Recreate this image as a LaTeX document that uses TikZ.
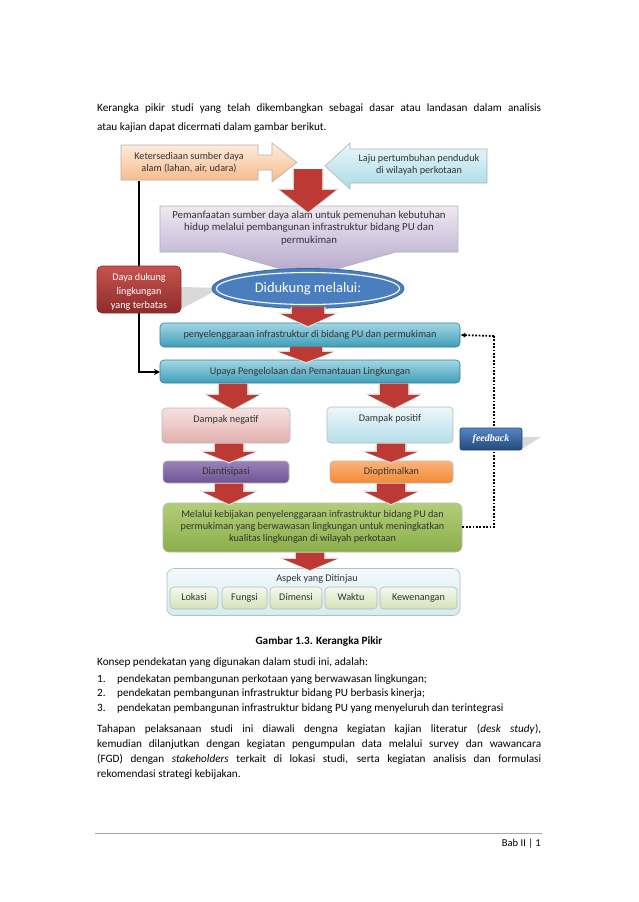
\documentclass[tikz,border=0pt]{standalone}
\usepackage{fontspec}
\setmainfont{Carlito}
\newfontfamily\serifbi{Liberation Serif}
\usetikzlibrary{calc,arrows.meta,shapes.geometric}
\definecolor{txt}{HTML}{333333}
\definecolor{orgT}{HTML}{FDEEE2}
\definecolor{orgB}{HTML}{F8B987}
\definecolor{cyaT}{HTML}{EAF6F9}
\definecolor{cyaB}{HTML}{A9DCE8}
\definecolor{purT}{HTML}{EDE9F2}
\definecolor{purB}{HTML}{B3A3CA}
\definecolor{redA}{HTML}{BC3A33}
\definecolor{redT}{HTML}{C65350}
\definecolor{redB}{HTML}{8E2B2A}
\definecolor{bluE}{HTML}{4A7EBF}
\definecolor{bluD}{HTML}{3A6598}
\definecolor{barT}{HTML}{A3D7E5}
\definecolor{barB}{HTML}{3E9DB8}
\definecolor{barD}{HTML}{2F7F97}
\definecolor{pnkT}{HTML}{F6E2E1}
\definecolor{pnkB}{HTML}{E3AFAE}
\definecolor{lcyT}{HTML}{EDF7FA}
\definecolor{lcyB}{HTML}{B5DFEA}
\definecolor{vioT}{HTML}{9A83B9}
\definecolor{vioB}{HTML}{6E5394}
\definecolor{oraT}{HTML}{FBB37B}
\definecolor{oraB}{HTML}{F28A33}
\definecolor{grnT}{HTML}{B2CD79}
\definecolor{grnB}{HTML}{8BAF4A}
\definecolor{aspT}{HTML}{F3F9FB}
\definecolor{aspB}{HTML}{D3ECF2}
\definecolor{inT}{HTML}{F4F8EE}
\definecolor{inB}{HTML}{D3E2B7}
\definecolor{fbT}{HTML}{5586C2}
\definecolor{fbB}{HTML}{23497A}
\newcommand\bodyfont{\fontsize{11.2}{14.6}\selectfont}
\newcommand\dfont{\fontsize{10.2}{12.5}\selectfont}
\newcommand\rdarrow[6]{% cx, ytop, yhead, ytip, shaft half, head half
  \fill[gray!30] (#1-#5-1.5,#2) -- (#1+#5+1.5,#2) -- (#1+#5+1.5,#3-1.5) -- (#1+#6+3,#3-1.5) -- (#1,#4+1.5) -- (#1-#6-3,#3-1.5) -- (#1-#5-1.5,#3-1.5) -- cycle;
  \fill[redA] (#1-#5,#2) -- (#1+#5,#2) -- (#1+#5,#3) -- (#1+#6,#3) -- (#1,#4) -- (#1-#6,#3) -- (#1-#5,#3) -- cycle;}
\tikzset{
  body/.style={inner sep=0pt, font=\bodyfont, text=black},
  dtxt/.style={inner sep=0pt, font=\dfont, text=txt, align=center},
  wtxt/.style={inner sep=0pt, font=\dfont, text=white, align=center},
  rbox/.style={draw=gray!55, line width=0.6pt, rounded corners=4pt, inner sep=0pt},
  inbox/.style={rbox, top color=inT, bottom color=inB, minimum height=22pt, font=\dfont, text=txt, text height=7.2pt, text depth=2.2pt},
}
\begin{document}
\begin{tikzpicture}[x=1pt,y=-1pt]
\useasboundingbox (0,0) rectangle (638,902);
\fill[white] (0,0) rectangle (638,902);

% ---- paragraph 1
\node[body, anchor=base west] (p1a) at (97,111) {\makebox[444pt][s]{Kerangka pikir studi yang telah dikembangkan sebagai dasar atau landasan dalam analisis}};
\node[body, anchor=base west] (p1b) at (97,130) {atau kajian dapat dicermati dalam gambar berikut.};

% ---- black connector (behind)
\coordinate (ks) at (139,181);
\coordinate (kc) at (139,372);

% ---- top arrows boxes
\path[draw=gray!60, line width=0.6pt, top color=orgT, bottom color=orgB]
  (121,145) -- (258,145) -- (258,155) -- (272,155) -- (272,143) -- (297,162.5) -- (272,182) -- (272,170) -- (258,170) -- (258,180) -- (121,180) -- cycle;
\node[dtxt] (ket) at (189,162.5) {Ketersediaan sumber daya\\alam (lahan, air, udara)};
\path[draw=gray!60, line width=0.6pt, top color=cyaT, bottom color=cyaB]
  (487,149) -- (350,149) -- (350,143) -- (325,166) -- (350,189) -- (350,183) -- (487,183) -- cycle;
\node[dtxt] (laj) at (419,165) {Laju pertumbuhan penduduk\\di wilayah perkotaan};

\draw[line width=1.6pt, -{Stealth[length=6pt,width=6pt]}] (ks) -- (kc) -- (160,372);

% ---- purple box with callout
\path[draw=gray!60, line width=0.6pt, top color=purT, bottom color=purB]
  (160,206) -- (458,206) -- (458,252) -- (396,252) -- (309,277) -- (222,252) -- (160,252) -- cycle;
\node[dtxt, font=\fontsize{10.8}{12.8}\selectfont] (pem) at (309,228) {Pemanfaatan sumber daya alam untuk pemenuhan kebutuhan\\hidup melalui pembangunan infrastruktur bidang PU dan\\permukiman};

% ---- red box & callout
\fill[gray!30] (181,287) -- (221,288) -- (181,309) -- cycle;
\node[rbox, draw=redB, top color=redT, bottom color=redB, rounded corners=5pt, minimum width=84pt, minimum height=47pt] (ddb) at (139,289.5) {};
\node[wtxt, font=\fontsize{10.2}{14.2}\selectfont] (dd) at (139,292) {Daya dukung\\lingkungan\\yang terbatas};

% ---- ellipse
\node[ellipse, draw=bluD, line width=0.8pt, fill=bluE, minimum width=192pt, minimum height=40pt, inner sep=0pt] (did) at (308,288.5) {};
\node[ellipse, draw=white, line width=1.1pt, minimum width=183pt, minimum height=32pt, inner sep=0pt, text=white, font=\fontsize{14.5}{16}\selectfont] (didt) at (308,288.5) {Didukung melalui:};

% ---- bars
\node[rbox, draw=barD, top color=barT, bottom color=barB, minimum width=300pt, minimum height=24pt] (pen) at (310,335) {};
\node[dtxt] (pent) at (310,335) {penyelenggaraan infrastruktur di bidang PU dan permukiman};
\node[rbox, draw=barD, top color=barT, bottom color=barB, minimum width=300pt, minimum height=23pt] (upa) at (310,371.5) {};
\node[dtxt] (upat) at (310,371.5) {Upaya Pengelolaan dan Pemantauan Lingkungan};

% ---- dampak
\node[rbox, top color=pnkT, bottom color=pnkB, minimum width=128pt, minimum height=35pt] (dn) at (226,425.5) {};
\node[dtxt] (dnt) at (226,420) {Dampak negatif};
\node[rbox, top color=lcyT, bottom color=lcyB, minimum width=126pt, minimum height=36pt] (dp) at (390,425) {};
\node[dtxt] (dpt) at (390,418.5) {Dampak positif};

\node[rbox, top color=vioT, bottom color=vioB, minimum width=126pt, minimum height=22pt, font=\dfont, text=txt] (da) at (226,472) {Diantisipasi};
\node[rbox, top color=oraT, bottom color=oraB, minimum width=123pt, minimum height=22pt, font=\dfont, text=txt] (do) at (391.5,472) {Dioptimalkan};

% ---- green
\node[rbox, rounded corners=6pt, top color=grnT, bottom color=grnB, minimum width=299pt, minimum height=49pt] (gr) at (312.5,527.5) {};
\node[dtxt, font=\fontsize{10.2}{11.8}\selectfont] (grt) at (312.5,527) {Melalui kebijakan penyelenggaraan infrastruktur bidang PU dan\\permukiman yang berwawasan lingkungan untuk meningkatkan\\kualitas lingkungan di wilayah perkotaan};

% ---- feedback loop
\draw[line width=1.8pt, dash pattern=on 1.8pt off 1.6pt] (gr.east |- 0,527) -- (494,527) -- (494,336);
\draw[line width=1.8pt, dash pattern=on 1.8pt off 1.6pt, -{Latex[length=5pt,width=5pt]}] (494,336) -- (pen.east);
\fill[gray!30] (522,437) -- (541,437) -- (522,449) -- cycle;
\node[rbox, draw=fbB, top color=fbT, bottom color=fbB, rounded corners=2pt, minimum width=62pt, minimum height=22pt, text=white, font=\serifbi\bfseries\itshape\fontsize{10}{12}\selectfont] (fb) at (491,439) {feedback};

% ---- aspek
\node[rbox, draw=aspB!60!gray, rounded corners=7pt, top color=aspT, bottom color=aspB, minimum width=293pt, minimum height=47pt] (asp) at (313.5,592) {};
\node[dtxt] (aspt) at (317,578.5) {Aspek yang Ditinjau};
\node[inbox, minimum width=48pt] (lok) at (194,598) {Lokasi};
\node[inbox, minimum width=45pt] (fun) at (244.5,598) {Fungsi};
\node[inbox, minimum width=52pt] (dim) at (296,598) {Dimensi};
\node[inbox, minimum width=52pt] (wak) at (351,598) {Waktu};
\node[inbox, minimum width=77pt] (kew) at (418.5,598) {Kewenangan};

% ---- red block arrows
\rdarrow{308}{169}{190}{212}{14}{28}
\rdarrow{308}{307}{314}{326}{16}{27}
\rdarrow{306}{347}{352}{362}{16}{27}
\rdarrow{233}{383.5}{395}{409}{14}{26}
\rdarrow{394}{383.5}{395}{408}{14}{26}
\rdarrow{229}{443.5}{452}{462}{14}{26}
\rdarrow{391}{443.5}{452}{462}{14}{26}
\rdarrow{229}{483.5}{492}{504}{14}{26}
\rdarrow{391}{483.5}{492}{504}{14}{26}
\rdarrow{310}{552.5}{559}{570}{14}{27}

% ---- caption and text
\node[body, anchor=base, font=\bodyfont\bfseries] (cap) at (319,644) {Gambar 1.3. Kerangka Pikir};
\node[body, anchor=base west] (kon) at (97,665) {Konsep pendekatan yang digunakan dalam studi ini, adalah:};
\node[body, anchor=base west] (n1) at (97,682) {1.};
\node[body, anchor=base west] (i1) at (117,682) {pendekatan pembangunan perkotaan yang berwawasan lingkungan;};
\node[body, anchor=base west] (n2) at (97,696.5) {2.};
\node[body, anchor=base west] (i2) at (117,696.5) {pendekatan pembangunan infrastruktur bidang PU berbasis kinerja;};
\node[body, anchor=base west] (n3) at (97,711) {3.};
\node[body, anchor=base west] (i3) at (117,711) {pendekatan pembangunan infrastruktur bidang PU yang menyeluruh dan terintegrasi};

\node[body, anchor=base west] (q1) at (97,732) {\makebox[444pt][s]{Tahapan pelaksanaan studi ini diawali dengna kegiatan kajian literatur (\textit{desk study}),}};
\node[body, anchor=base west] (q2) at (97,747) {\makebox[444pt][s]{kemudian dilanjutkan dengan kegiatan pengumpulan data melalui survey dan wawancara}};
\node[body, anchor=base west] (q3) at (97,762) {\makebox[444pt][s]{(FGD) dengan \textit{stakeholders} terkait di lokasi studi, serta kegiatan analisis dan formulasi}};
\node[body, anchor=base west] (q4) at (97,777) {rekomendasi strategi kebijakan.};

% ---- footer
\draw[gray!70, line width=0.8pt] (95,833) -- (542,833);
\node[body, anchor=base east, font=\fontsize{10.5}{12}\selectfont] (ftr) at (541,846.5) {Bab II | 1};
\end{tikzpicture}
\end{document}
